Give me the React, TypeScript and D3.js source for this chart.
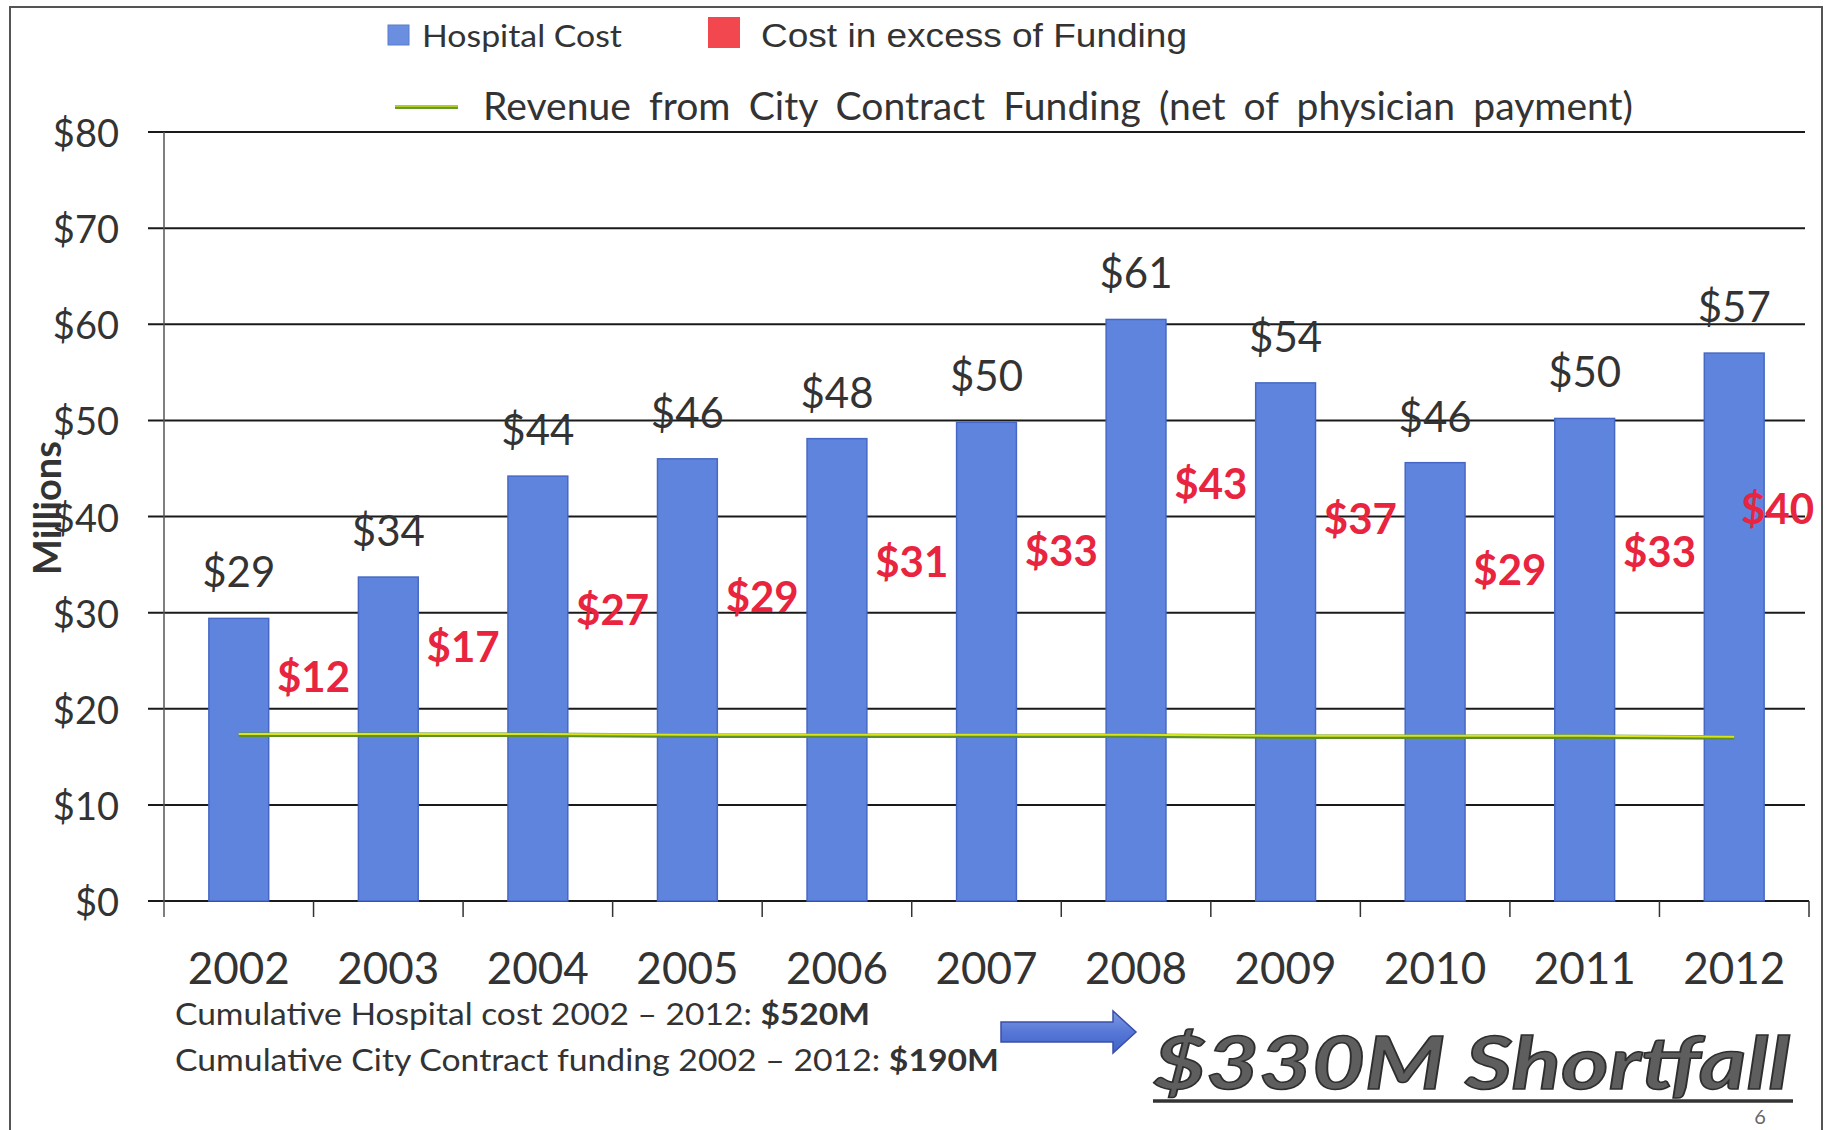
import * as d3 from 'd3';

const years = ['2002', '2003', '2004', '2005', '2006', '2007', '2008', '2009', '2010', '2011', '2012'];
// hospital cost per year, $ millions
const hospitalCost = [29.4, 33.7, 44.2, 46.0, 48.1, 49.8, 60.5, 53.9, 45.6, 50.2, 57.0];
// cost in excess of funding, $ millions (red labels)
const excessCost = [12, 17, 27, 29, 31, 33, 43, 37, 29, 33, 40];
// revenue from city contract funding, $ millions
const cityFunding = [17.3, 17.3, 17.3, 17.2, 17.2, 17.2, 17.2, 17.1, 17.1, 17.1, 17.0];
const yTicks = [0, 10, 20, 30, 40, 50, 60, 70, 80];

// where the red labels sit on the value axis (hand placed in the original slide)
const excessLabelAt = [23.4, 26.5, 30.4, 31.7, 35.4, 36.5, 43.5, 39.8, 34.5, 36.4, 40.9];

const W = 1832;
const H = 1130;
const plotLeft = 164;
const plotRight = 1809;
const gridRight = 1805;
const plotTop = 132;
const plotBottom = 901;

const FONT = 'Lato, "Open Sans", sans-serif';
const TEXT = '#333333';

export default function App() {
    const x = d3.scaleBand<string>().domain(years).range([plotLeft, plotRight]).padding(0);
    const y = d3.scaleLinear().domain([0, 80]).range([plotBottom, plotTop]);
    const bw = x.bandwidth();
    const barW = bw * 0.4;

    const line = d3
        .line<number>()
        .x((_d, i) => x(years[i])! + bw / 2)
        .y((d) => y(d));

    return (
        <svg width={W} height={H} style={{ position: 'absolute', left: 0, top: 0, background: '#ffffff' }} fontFamily={FONT}>
            <defs>
                <linearGradient id="arrowFill" x1="0" y1="0" x2="0" y2="1">
                    <stop offset="0" stopColor="#7f9ce6" />
                    <stop offset="0.5" stopColor="#5677d6" />
                    <stop offset="1" stopColor="#4063c6" />
                </linearGradient>
            </defs>

            {/* page frame */}
            <rect x={10} y={7} width={1812} height={1140} fill="none" stroke="#555" strokeWidth={2} />

            {/* legend */}
            <rect x={388} y={25} width={21} height={20} fill="#6b8fe0" stroke="#5a7ccc" strokeWidth={1} />
            <text x={422} y={47} fontSize={31} fill={TEXT} textLength={200} lengthAdjust="spacingAndGlyphs">
                Hospital Cost
            </text>
            <rect x={708} y={17} width={32} height={31} fill="#f2474f" />
            <text x={761} y={47} fontSize={33} fill={TEXT} fontFamily='"Liberation Sans", Arial, sans-serif' textLength={426} lengthAdjust="spacingAndGlyphs">
                Cost in excess of Funding
            </text>
            <line x1={395} x2={458} y1={107} y2={107} stroke="#6a9a2a" strokeWidth={4} />
            <line x1={395} x2={458} y1={106} y2={106} stroke="#c9dc2a" strokeWidth={1.5} />
            <text x={483} y={120} fontSize={38} fill={TEXT} textLength={1150} lengthAdjust="spacingAndGlyphs" wordSpacing={8}>
                Revenue from City Contract Funding (net of physician payment)
            </text>

            {/* gridlines and y axis */}
            {yTicks.map((t) => (
                <g key={t}>
                    <line x1={148} x2={t === 0 ? plotRight : gridRight} y1={y(t)} y2={y(t)} stroke="#1a1a1a" strokeWidth={2} />
                    <text x={119} y={y(t)} fontSize={38} fill={TEXT} textAnchor="end" dominantBaseline="central">
                        ${t}
                    </text>
                </g>
            ))}
            <line x1={plotLeft} x2={plotLeft} y1={plotTop} y2={plotBottom + 16} stroke="#555" strokeWidth={1.5} />
            {years.map((yr) => (
                <line key={yr} x1={x(yr)! + bw} x2={x(yr)! + bw} y1={plotBottom} y2={plotBottom + 16} stroke="#333" strokeWidth={1.5} />
            ))}

            <text transform={`translate(46, 508) rotate(-90)`} fontSize={38} fontWeight="bold" fill={TEXT} textAnchor="middle" dominantBaseline="central">
                Millions
            </text>

            {/* bars */}
            {years.map((yr, i) => (
                <rect
                    key={yr}
                    x={x(yr)! + (bw - barW) / 2}
                    y={y(hospitalCost[i])}
                    width={barW}
                    height={y(0) - y(hospitalCost[i])}
                    fill="#5f84de"
                    stroke="#4668c4"
                    strokeWidth={1.5}
                />
            ))}

            {/* city funding line */}
            <path d={line(cityFunding)!} fill="none" stroke="#5f8f2a" strokeWidth={4.5} />
            <path d={line(cityFunding)!} fill="none" stroke="#d8e41c" strokeWidth={2} transform="translate(0,-0.8)" />

            {/* value labels */}
            {years.map((yr, i) => (
                <text key={yr} x={x(yr)! + bw / 2} y={y(hospitalCost[i]) - 31} fontSize={42} fill={TEXT} textAnchor="middle">
                    ${Math.round(hospitalCost[i])}
                </text>
            ))}
            {years.map((yr, i) => {
                const last = i === years.length - 1;
                return (
                    <text
                        key={yr}
                        x={last ? plotRight + 5 : x(yr)! + bw}
                        y={y(excessLabelAt[i])}
                        fontSize={42}
                        fontWeight="bold"
                        fill="#e8243f"
                        textAnchor={last ? 'end' : 'middle'}
                        dominantBaseline="central"
                    >
                        ${excessCost[i]}
                    </text>
                );
            })}

            {/* x labels */}
            {years.map((yr) => (
                <text key={yr} x={x(yr)! + bw / 2} y={984} fontSize={44} fill={TEXT} textAnchor="middle">
                    {yr}
                </text>
            ))}

            {/* notes */}
            <text x={175} y={1025} fontSize={31} fill={TEXT} textLength={695} lengthAdjust="spacingAndGlyphs">
                Cumulative Hospital cost 2002 – 2012: <tspan fontWeight="bold">$520M</tspan>
            </text>
            <text x={175} y={1071} fontSize={31} fill={TEXT} textLength={824} lengthAdjust="spacingAndGlyphs">
                Cumulative City Contract funding 2002 – 2012: <tspan fontWeight="bold">$190M</tspan>
            </text>

            <polygon
                points="1001,1022 1113,1022 1113,1011 1136,1032 1113,1053 1113,1042 1001,1042"
                fill="url(#arrowFill)"
                stroke="#3a4fa8"
                strokeWidth={1.5}
            />

            <text
                x={1153}
                y={1089}
                fontSize={72}
                fontWeight="bold"
                fontStyle="italic"
                fill="#5e5e5e"
                stroke="#2e2e2e"
                strokeWidth={1.5}
                textLength={637}
                lengthAdjust="spacingAndGlyphs"
            >
                $330M Shortfall
            </text>
            <line x1={1153} x2={1793} y1={1101} y2={1101} stroke="#333" strokeWidth={3.5} />

            <text x={1760} y={1124} fontSize={20} fill="#666" textAnchor="middle">
                6
            </text>
        </svg>
    );
}
